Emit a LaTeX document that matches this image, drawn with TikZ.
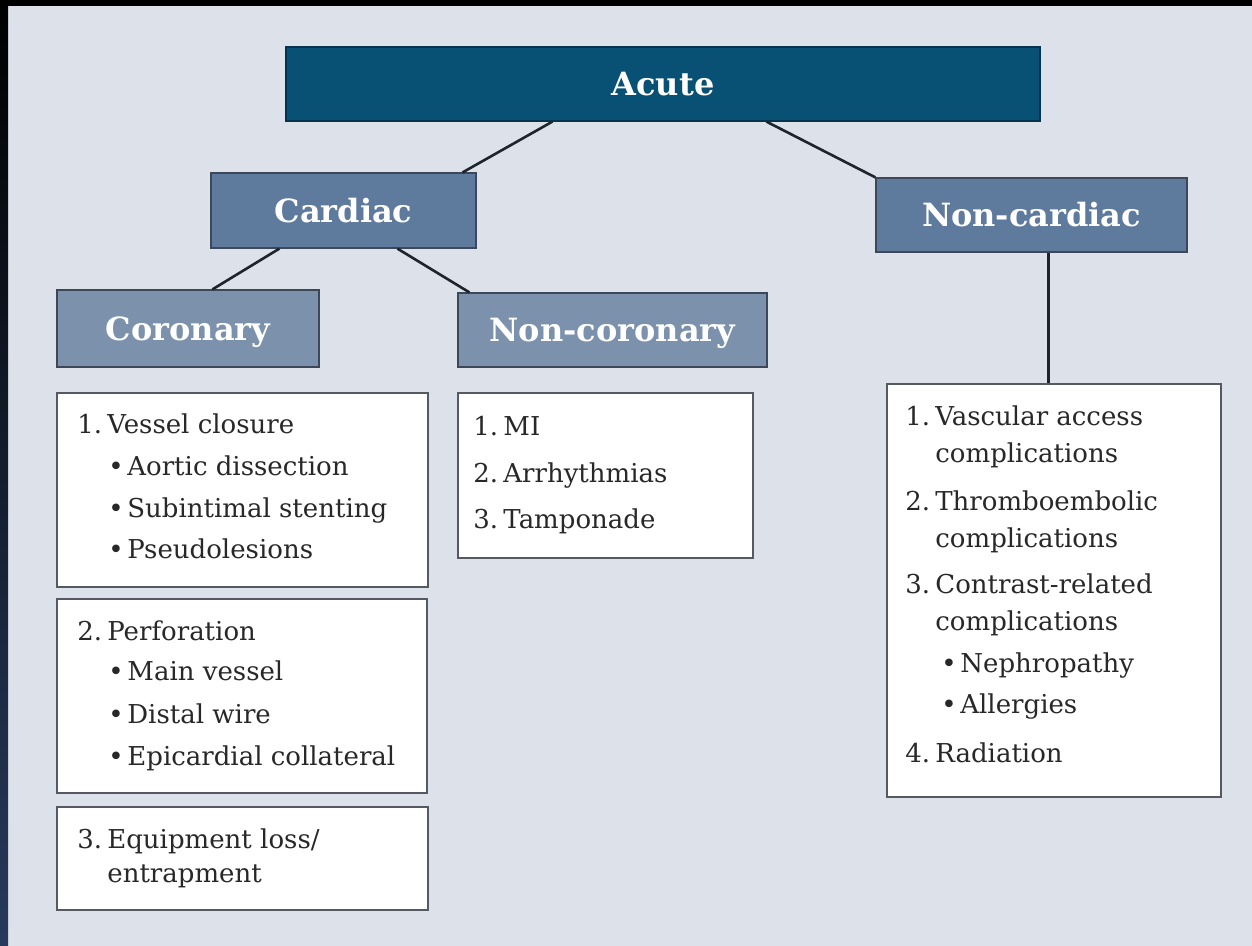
\documentclass[tikz,border=0pt]{standalone}
\usepackage{fontspec}
\setmainfont{DejaVu Serif}
\usetikzlibrary{calc}
\definecolor{bg}{RGB}{221,226,234}
\definecolor{acutec}{RGB}{9,80,117}
\definecolor{acuteedge}{RGB}{6,52,78}
\definecolor{midc}{RGB}{94,122,156}
\definecolor{lightc}{RGB}{124,145,172}
\definecolor{edgec}{RGB}{60,72,90}
\definecolor{listedge}{RGB}{85,90,98}
\definecolor{txt}{RGB}{40,40,40}
\definecolor{conncol}{RGB}{30,36,45}
\definecolor{leftbot}{RGB}{40,58,92}
\newcommand\numitem[2]{\makebox[15pt][l]{#1}#2}
\newcommand\bulitem[1]{\makebox[9.5pt][l]{\textbullet}#1}
\begin{document}
\begin{tikzpicture}[x=0.5pt,y=-0.5pt,
  hbox/.style={draw=edgec, line width=0.6pt, text=white,
    font=\fontsize{16}{18}\selectfont\bfseries, text height=11.7pt, text depth=0pt, inner sep=0pt},
  lbox/.style={draw=listedge, fill=white, line width=1pt, inner sep=0pt},
  ln/.style={anchor=base west, inner sep=0pt, text=txt, font=\fontsize{13}{15}\selectfont},
  connline/.style={draw=conncol, line width=1.3pt}]
\useasboundingbox (0,0) rectangle (1252,946);
\fill[bg] (0,0) rectangle (1252,946);
\fill[black] (0,0) rectangle (1252,6);
\shade[top color=black, bottom color=leftbot] (0,0) rectangle (8,946);

% header boxes
\node[hbox, fill=acutec, draw=acuteedge, minimum width=377pt, minimum height=37pt] (acute) at (663,84) {Acute};
\node[hbox, fill=midc, minimum width=132.5pt, minimum height=37.5pt] (cardiac) at (343.5,210.5) {Cardiac};
\node[hbox, fill=midc, minimum width=155.5pt, minimum height=37pt] (noncardiac) at (1031.5,215) {Non-cardiac};
\node[hbox, fill=lightc, minimum width=131pt, minimum height=38.5pt] (coronary) at (188,328.5) {Coronary};
\node[hbox, fill=lightc, minimum width=154.5pt, minimum height=37pt] (noncoronary) at (612.5,330) {Non-coronary};

% list boxes
\node[lbox, minimum width=185.5pt, minimum height=97pt] (cl1) at (242.5,490) {};
\node[lbox, minimum width=185pt, minimum height=97pt] (cl2) at (242,696) {};
\node[lbox, minimum width=185.5pt, minimum height=51.5pt] (cl3) at (242.5,858.5) {};
\node[lbox, minimum width=147.5pt, minimum height=82.5pt] (ncl) at (605.5,475.5) {};
\node[lbox, minimum width=167pt, minimum height=206.5pt] (rl) at (1054,590.5) {};

% coronary list text
\node[ln] (c1a) at (77,433) {\numitem{1.}{Vessel closure}};
\node[ln] (c1b) at (108,475) {\bulitem{Aortic dissection}};
\node[ln] (c1c) at (108,517) {\bulitem{Subintimal stenting}};
\node[ln] (c1d) at (108,558) {\bulitem{Pseudolesions}};
\node[ln] (c2a) at (77,640) {\numitem{2.}{Perforation}};
\node[ln] (c2b) at (108,680) {\bulitem{Main vessel}};
\node[ln] (c2c) at (108,723) {\bulitem{Distal wire}};
\node[ln] (c2d) at (108,765) {\bulitem{Epicardial collateral}};
\node[ln] (c3a) at (77,848) {\numitem{3.}{Equipment loss/}};
\node[ln] (c3b) at (107,882) {entrapment};

% non-coronary list text
\node[ln] (n1) at (473,435) {\numitem{1.}{MI}};
\node[ln] (n2) at (473,482) {\numitem{2.}{Arrhythmias}};
\node[ln] (n3) at (473,528) {\numitem{3.}{Tamponade}};

% non-cardiac list text
\node[ln] (r1a) at (905,425) {\numitem{1.}{Vascular access}};
\node[ln] (r1b) at (935,462) {complications};
\node[ln] (r2a) at (905,510) {\numitem{2.}{Thromboembolic}};
\node[ln] (r2b) at (935,547) {complications};
\node[ln] (r3a) at (905,593) {\numitem{3.}{Contrast-related}};
\node[ln] (r3b) at (935,630) {complications};
\node[ln] (r3c) at (941,672) {\bulitem{Nephropathy}};
\node[ln] (r3d) at (941,713) {\bulitem{Allergies}};
\node[ln] (r4) at (905,762) {\numitem{4.}{Radiation}};

% connectors
\draw[connline] ($(acute.south west)+(267,0)$) -- ($(cardiac.north east)+(-14,0)$);
\draw[connline] ($(acute.south west)+(481,0)$) -- (noncardiac.north west);
\draw[connline] ($(cardiac.south west)+(69,0)$) -- ($(coronary.north west)+(156,0)$);
\draw[connline] ($(cardiac.south west)+(187,0)$) -- ($(noncoronary.north west)+(12,0)$);
\coordinate (ncv) at ($(noncardiac.south west)+(173,0)$);
\draw[connline] (ncv) -- (ncv |- rl.north);
\end{tikzpicture}
\end{document}
